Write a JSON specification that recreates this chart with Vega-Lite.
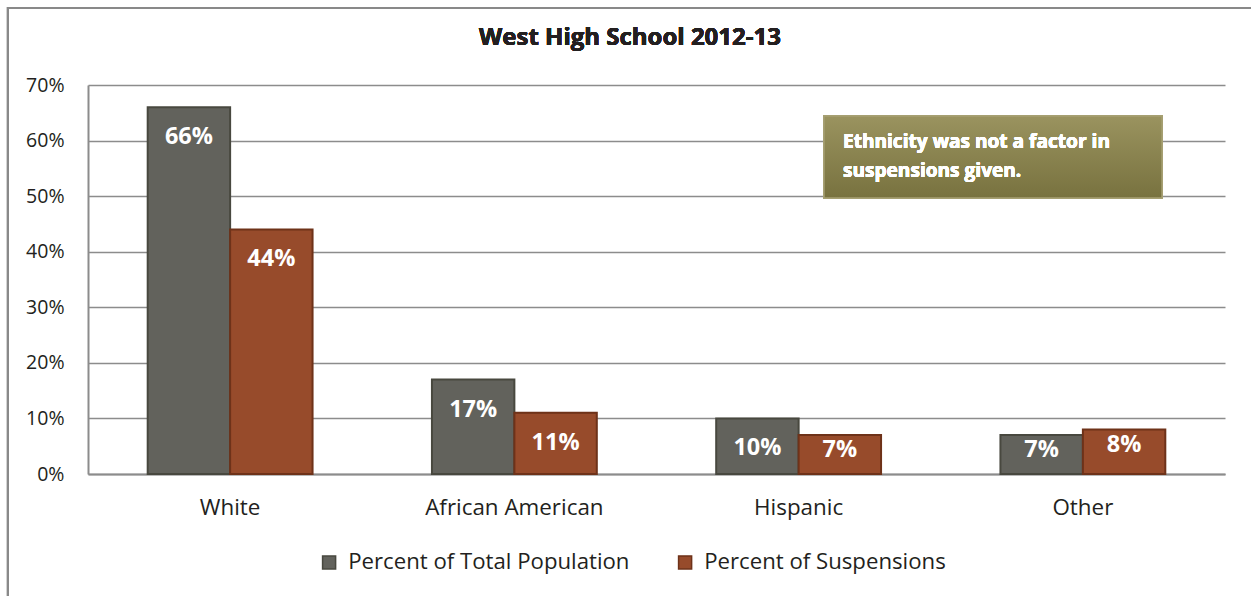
{
  "$schema": "https://vega.github.io/schema/vega-lite/v6.json",
  "width": 1137,
  "height": 389,
  "autosize": "none",
  "padding": {"left": 88, "top": 85, "right": 26, "bottom": 122},
  "background": "white",
  "config": {
    "view": {"stroke": null},
    "font": "Open Sans"
  },
  "data": {
    "values": [
      {"group": "White", "series": "Percent of Total Population", "value": 0.66},
      {"group": "White", "series": "Percent of Suspensions", "value": 0.44},
      {"group": "African American", "series": "Percent of Total Population", "value": 0.17},
      {"group": "African American", "series": "Percent of Suspensions", "value": 0.11},
      {"group": "Hispanic", "series": "Percent of Total Population", "value": 0.10},
      {"group": "Hispanic", "series": "Percent of Suspensions", "value": 0.07},
      {"group": "Other", "series": "Percent of Total Population", "value": 0.07},
      {"group": "Other", "series": "Percent of Suspensions", "value": 0.08}
    ]
  },
  "resolve": {"scale": {"x": "independent"}},
  "layer": [
    {
      "encoding": {
        "x": {
          "field": "group",
          "type": "nominal",
          "sort": ["White", "African American", "Hispanic", "Other"],
          "scale": {"paddingInner": 0.42, "paddingOuter": 0.21},
          "axis": {
            "title": null,
            "labelAngle": 0,
            "ticks": false,
            "labelFont": "Open Sans",
            "labelFontSize": 22.4,
            "labelColor": "#231f20",
            "labelPadding": 22,
            "domainColor": "#8c8c8c",
            "domainWidth": 2
          }
        },
        "xOffset": {
          "field": "series",
          "type": "nominal",
          "sort": ["Percent of Total Population", "Percent of Suspensions"],
          "scale": {"paddingInner": 0, "paddingOuter": 0}
        },
        "y": {
          "field": "value",
          "type": "quantitative",
          "scale": {"domain": [0, 0.7], "nice": false},
          "axis": {
            "title": null,
            "values": [0, 0.1, 0.2, 0.3, 0.4, 0.5, 0.6, 0.7],
            "format": ".0%",
            "ticks": false,
            "labelFont": "Open Sans",
            "labelFontSize": 19.5,
            "labelColor": "#231f20",
            "labelPadding": 24,
            "gridColor": "#8c8c8c",
            "gridWidth": 1.6,
            "domainColor": "#8c8c8c",
            "domainWidth": 2
          }
        }
      },
      "layer": [
        {
          "mark": {"type": "bar", "strokeWidth": 2},
          "encoding": {
            "color": {
              "field": "series",
              "type": "nominal",
              "sort": ["Percent of Total Population", "Percent of Suspensions"],
              "scale": {
                "domain": ["Percent of Total Population", "Percent of Suspensions"],
                "range": ["#62625c", "#974b2b"]
              },
              "legend": {
                "title": null,
                "orient": "none",
                "direction": "horizontal",
                "legendX": 230,
                "legendY": 466,
                "symbolType": "square",
                "symbolSize": 170,
                "symbolStrokeWidth": 1.5,
                "labelFont": "Open Sans",
                "labelFontSize": 22.2,
                "labelColor": "#231f20",
                "labelOffset": 8,
                "labelLimit": 0,
                "columnPadding": 44
              }
            },
            "stroke": {
              "field": "series",
              "type": "nominal",
              "sort": ["Percent of Total Population", "Percent of Suspensions"],
              "scale": {
                "domain": ["Percent of Total Population", "Percent of Suspensions"],
                "range": ["#48483f", "#6e3219"]
              },
              "legend": {
                "title": null,
                "orient": "none",
                "direction": "horizontal",
                "legendX": 230,
                "legendY": 466,
                "symbolType": "square",
                "symbolSize": 170,
                "symbolStrokeWidth": 1.5,
                "labelFont": "Open Sans",
                "labelFontSize": 22.2,
                "labelColor": "#231f20",
                "labelOffset": 8,
                "labelLimit": 0,
                "columnPadding": 44
              }
            }
          }
        },
        {
          "transform": [{"filter": "datum.value >= 0.09"}],
          "mark": {
            "type": "text",
            "font": "Open Sans",
            "fontSize": 23.5,
            "fontWeight": "bold",
            "color": "white",
            "baseline": "middle",
            "align": "center",
            "dy": 30
          },
          "encoding": {
            "text": {"field": "value", "type": "quantitative", "format": ".0%"}
          }
        },
        {
          "transform": [{"filter": "datum.value < 0.09"}],
          "mark": {
            "type": "text",
            "font": "Open Sans",
            "fontSize": 23.5,
            "fontWeight": "bold",
            "color": "white",
            "baseline": "middle",
            "align": "center",
            "dy": 15
          },
          "encoding": {
            "text": {"field": "value", "type": "quantitative", "format": ".0%"}
          }
        }
      ]
    },
    {
      "mark": {
        "type": "rect",
        "fill": {
          "gradient": "linear",
          "x1": 0, "y1": 0, "x2": 0, "y2": 1,
          "stops": [
            {"offset": 0, "color": "#9a935f"},
            {"offset": 1, "color": "#78723f"}
          ]
        },
        "stroke": "#a6a073",
        "strokeWidth": 1.5
      },
      "encoding": {
        "x": {"datum": 64.73, "type": "quantitative", "scale": {"domain": [0, 100], "nice": false, "zero": false}, "axis": null},
        "x2": {"datum": 94.46},
        "y": {"datum": 0.6442, "type": "quantitative"},
        "y2": {"datum": 0.4967}
      }
    },
    {
      "mark": {
        "type": "text",
        "font": "Open Sans",
        "fontSize": 19.1,
        "fontWeight": "bold",
        "color": "white",
        "align": "left",
        "baseline": "alphabetic",
        "lineHeight": 29
      },
      "encoding": {
        "x": {"datum": 66.4, "type": "quantitative", "scale": {"domain": [0, 100], "nice": false, "zero": false}, "axis": null},
        "y": {"datum": 0.5866, "type": "quantitative"},
        "text": {"value": ["Ethnicity was not a factor in", "suspensions given."]}
      }
    },
    {
      "mark": {
        "type": "text",
        "font": "Open Sans",
        "fontSize": 24,
        "fontWeight": "bold",
        "color": "#231f20",
        "align": "center",
        "baseline": "middle"
      },
      "encoding": {
        "x": {"datum": 47.67, "type": "quantitative", "scale": {"domain": [0, 100], "nice": false, "zero": false}, "axis": null},
        "y": {"datum": 0.7846, "type": "quantitative"},
        "text": {"value": "West High School 2012-13"}
      }
    },
    {
      "mark": {"type": "rect", "fill": null, "stroke": "#898989", "strokeWidth": 2},
      "encoding": {
        "x": {"datum": -7.04, "type": "quantitative", "scale": {"domain": [0, 100], "nice": false, "zero": false}, "axis": null},
        "x2": {"datum": 140},
        "y": {"datum": 0.8386, "type": "quantitative"},
        "y2": {"datum": -0.4}
      }
    }
  ]
}
